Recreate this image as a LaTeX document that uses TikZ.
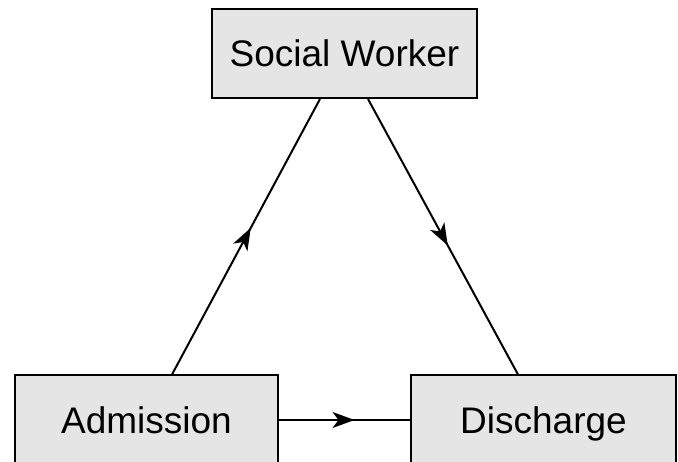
\documentclass[tikz,border=0pt]{standalone}
\usepackage{fontspec}
\setmainfont{Liberation Sans}
\usetikzlibrary{arrows.meta,decorations.markings}
\begin{document}
\begin{tikzpicture}[x=1pt,y=-1pt,
  box/.style={draw=black,line width=2pt,fill=gray!20,minimum height=89pt,inner sep=0pt,text height=26.5pt,text depth=0pt,font=\fontsize{37}{44}\selectfont},
  flow/.style={line width=2pt,postaction={decorate},decoration={markings,mark=at position 0.5 with {\arrow[xshift=10pt]{Stealth[length=22pt,width=16pt,inset=6pt]}}}}]
\useasboundingbox (0,0) rectangle (678,462);
\clip (0,0) rectangle (678,462);
\node[box,minimum width=265pt] (sw) at (344.5,53.5) {Social Worker};
\node[box,minimum width=263pt] (adm) at (146.5,420) {Admission};
\node[box,minimum width=265pt] (dis) at (543.5,420) {Discharge};
\draw[flow] ([xshift=25.5pt]adm.north) -- ([xshift=-24.5pt]sw.south);
\draw[flow] ([xshift=23.5pt]sw.south) -- ([xshift=-25.5pt]dis.north);
\draw[flow] (adm.east) -- (dis.west);
\end{tikzpicture}
\end{document}
